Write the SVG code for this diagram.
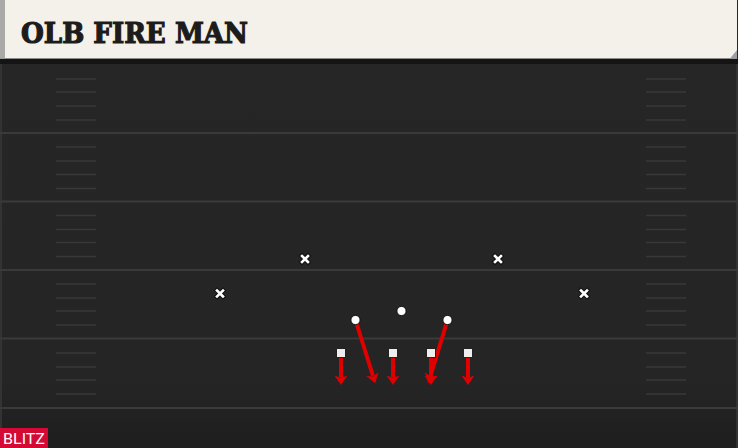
<svg xmlns="http://www.w3.org/2000/svg" width="738" height="448" viewBox="0 0 738 448">
<style>
.yl{stroke:#3a3a3a;stroke-width:2}
.hm{stroke:#383838;stroke-width:1.6}
.x{stroke:#fff;stroke-width:2.6;stroke-linecap:square}
.xo{stroke:#111;stroke-width:4.6;stroke-linecap:square}
.o{fill:#fff;stroke:#111;stroke-width:1}
.sq{fill:#eee;stroke:#222;stroke-width:1}
.rt{stroke:#e00000;stroke-width:4;fill:none}
</style>
<defs>
<marker id="ah" markerWidth="10" markerHeight="13" refX="2" refY="6.5" orient="auto" markerUnits="userSpaceOnUse" viewBox="0 0 10 13">
<path d="M0,0 L9.5,6.5 L0,13 L2.5,6.5 Z" fill="#e00000"/>
</marker>
<linearGradient id="fg" x1="0" y1="0" x2="0" y2="1">
<stop offset="0" stop-color="#262626"/>
<stop offset="0.85" stop-color="#252525"/>
<stop offset="1" stop-color="#1e1e1e"/>
</linearGradient>
</defs>
<rect x="0" y="0" width="738" height="448" fill="url(#fg)"/>
<rect x="0" y="59" width="738" height="5" fill="#141414"/>
<rect x="0" y="64" width="2" height="384" fill="#333"/>
<rect x="736" y="64" width="2" height="384" fill="#333"/>
<g id="field">
<line class="yl" x1="0" y1="133" x2="738" y2="133"/>
<line class="yl" x1="0" y1="201.5" x2="738" y2="201.5"/>
<line class="yl" x1="0" y1="270" x2="738" y2="270"/>
<line class="yl" x1="0" y1="338.5" x2="738" y2="338.5"/>
<line class="yl" x1="0" y1="408" x2="738" y2="408"/>
<g id="hashL">
<path class="hm" d="M56,79H96M56,92H96M56,106H96M56,120H96M56,147H96M56,161H96M56,174.5H96M56,188.5H96M56,215.5H96M56,229.5H96M56,242.5H96M56,256.5H96M56,284H96M56,298H96M56,311H96M56,325H96M56,353H96M56,367H96M56,380H96M56,394H96"/>
</g>
<g id="hashR">
<path class="hm" d="M646,79H686M646,92H686M646,106H686M646,120H686M646,147H686M646,161H686M646,174.5H686M646,188.5H686M646,215.5H686M646,229.5H686M646,242.5H686M646,256.5H686M646,284H686M646,298H686M646,311H686M646,325H686M646,353H686M646,367H686M646,380H686M646,394H686"/>
</g>
</g>
<g id="header">
<rect x="0" y="0" width="737" height="58.5" fill="#f4f1ea"/>
<path d="M730,58.5 L737,50 L737,58.5 Z" fill="#9aa0a6"/>
<rect x="0" y="0" width="5" height="58.5" fill="#a9aaa8"/>
<text x="21" y="42.5" font-family="'DejaVu Serif', 'Liberation Serif', serif" font-weight="bold" font-size="28" fill="#1c1c1c" stroke="#1c1c1c" stroke-width="1.2" textLength="227" lengthAdjust="spacingAndGlyphs">OLB FIRE MAN</text>
</g>
<g id="connectors">
<line class="rt" x1="341" y1="357" x2="341" y2="377.5" marker-end="url(#ah)"/>
<line class="rt" x1="393" y1="357" x2="393" y2="377.5" marker-end="url(#ah)"/>
<line class="rt" x1="431" y1="357" x2="431" y2="377.5" marker-end="url(#ah)"/>
<line class="rt" x1="468" y1="357" x2="468" y2="377.5" marker-end="url(#ah)"/>
<line class="rt" x1="355.5" y1="320" x2="373" y2="376" marker-end="url(#ah)"/>
<line class="rt" x1="447.5" y1="320" x2="430.5" y2="376" marker-end="url(#ah)"/>
</g>
<g id="d1"><path class="xo" d="M302,256L308,262M308,256L302,262"/><path class="x" d="M302,256L308,262M308,256L302,262"/></g>
<g id="d2"><path class="xo" d="M495,256L501,262M501,256L495,262"/><path class="x" d="M495,256L501,262M501,256L495,262"/></g>
<g id="d3"><path class="xo" d="M217,290.5L223,296.5M223,290.5L217,296.5"/><path class="x" d="M217,290.5L223,296.5M223,290.5L217,296.5"/></g>
<g id="d4"><path class="xo" d="M581,290.5L587,296.5M587,290.5L581,296.5"/><path class="x" d="M581,290.5L587,296.5M587,290.5L581,296.5"/></g>
<g id="o1"><circle class="o" cx="355.5" cy="320" r="4.6"/></g>
<g id="o2"><circle class="o" cx="401.5" cy="311" r="4.6"/></g>
<g id="o3"><circle class="o" cx="447.5" cy="320" r="4.6"/></g>
<g id="s1"><rect class="sq" x="336.5" y="348.5" width="9" height="9"/></g>
<g id="s2"><rect class="sq" x="388.5" y="348.5" width="9" height="9"/></g>
<g id="s3"><rect class="sq" x="426.5" y="348.5" width="9" height="9"/></g>
<g id="s4"><rect class="sq" x="463.5" y="348.5" width="9" height="9"/></g>
<g id="blitz">
<rect x="0" y="428" width="48" height="20" fill="#d40a35"/>
<text x="24" y="444" text-anchor="middle" font-family="'Roboto', 'Liberation Sans', sans-serif" font-size="14" fill="#fff" textLength="42" lengthAdjust="spacingAndGlyphs">BLITZ</text>
</g>
</svg>
